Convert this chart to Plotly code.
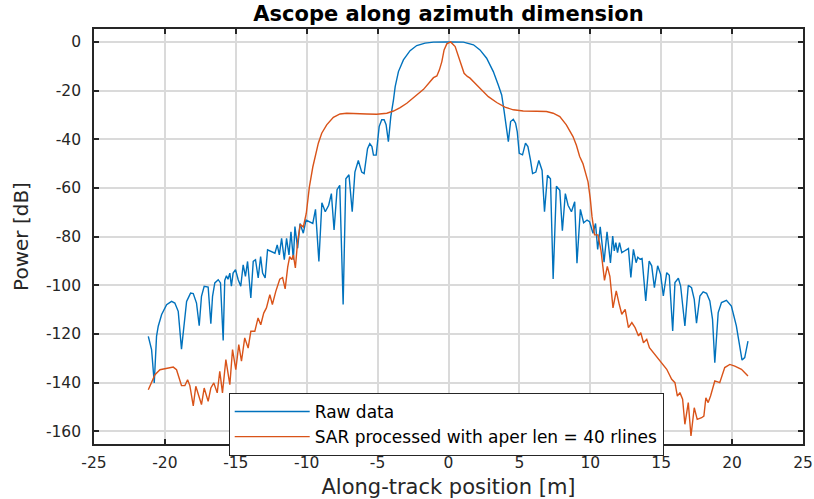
import plotly.graph_objects as go

# Along-track positions [m] and power [dB] of the raw (unfocused) data
raw_x = [
    -21.17, -20.94, -20.75, -20.59, -20.47, -20.23, -19.88, -19.53, -19.30, -19.06,
    -18.83, -18.66, -18.47, -18.19, -18.00, -17.77, -17.58, -17.42, -17.23, -16.95,
    -16.76, -16.64, -16.48, -16.24, -16.08, -15.89, -15.78, -15.66, -15.55, -15.42,
    -15.31, -15.19, -15.02, -14.83, -14.65, -14.48, -14.32, -14.17, -13.94, -13.77,
    -13.61, -13.42, -13.25, -13.11, -12.93, -12.76, -12.48, -12.24, -12.08, -11.93,
    -11.77, -11.58, -11.42, -11.25, -11.11, -10.94, -10.83, -10.64, -10.47, -10.24,
    -10.05, -9.76, -9.57, -9.38, -9.14, -8.93, -8.69, -8.45, -8.26, -8.07,
    -7.86, -7.67, -7.43, -7.24, -7.02, -6.79, -6.60, -6.36, -6.12, -5.95,
    -5.71, -5.55, -5.40, -5.29, -5.10, -4.89, -4.71, -4.54, -4.40, -4.24,
    -4.07, -3.88, -3.76, -3.53, -3.18, -2.71, -2.24, -1.65, -1.06, 0.00,
    1.05, 1.76, 2.22, 2.69, 3.16, 3.51, 3.75, 3.91, 4.05, 4.22,
    4.38, 4.57, 4.73, 4.85, 4.99, 5.22, 5.43, 5.60, 5.78, 5.93,
    6.16, 6.37, 6.60, 6.77, 6.98, 7.19, 7.38, 7.61, 7.85, 8.03,
    8.24, 8.43, 8.67, 8.90, 9.06, 9.30, 9.53, 9.77, 9.95, 10.19,
    10.37, 10.52, 10.70, 10.97, 11.18, 11.42, 11.58, 11.69, 11.80, 11.92,
    12.06, 12.22, 12.41, 12.58, 12.69, 12.86, 13.04, 13.23, 13.35, 13.51,
    13.65, 13.91, 14.15, 14.33, 14.52, 14.75, 14.96, 15.15, 15.39, 15.57,
    15.81, 15.97, 16.21, 16.37, 16.67, 16.91, 17.14, 17.33, 17.49, 17.73,
    17.96, 18.20, 18.43, 18.62, 18.78, 19.02, 19.25, 19.60, 19.95, 20.30,
    20.54, 20.70, 20.89, 21.12,
]
raw_db = [
    -121.0, -126.4, -140.1, -121.0, -116.8, -112.0, -108.0, -106.6, -107.3, -110.7,
    -126.2, -115.5, -106.6, -103.2, -103.4, -107.3, -116.6, -104.5, -100.4, -100.7,
    -115.8, -104.5, -99.0, -97.7, -99.0, -122.7, -98.0, -96.1, -97.5, -95.0,
    -100.4, -95.0, -93.6, -97.7, -100.4, -91.6, -96.3, -90.2, -105.2, -90.2,
    -89.5, -97.0, -88.2, -95.0, -97.0, -85.4, -86.1, -86.8, -83.4, -87.5,
    -80.7, -89.5, -80.7, -87.5, -78.0, -89.5, -75.9, -84.8, -74.6, -78.6,
    -73.2, -73.9, -74.6, -68.8, -90.2, -66.1, -69.8, -67.1, -62.3, -77.3,
    -60.7, -58.9, -107.9, -56.2, -54.6, -69.8, -53.5, -48.7, -53.5, -54.1,
    -43.9, -41.8, -43.0, -46.5, -46.5, -34.8, -32.0, -32.0, -34.0, -41.0,
    -30.7, -23.8, -18.4, -12.2, -7.4, -3.6, -1.5, -0.5, -0.1, 0.0,
    -0.1, -1.2, -3.3, -6.7, -12.2, -17.7, -21.8, -27.9, -34.8, -41.0,
    -32.7, -31.8, -33.4, -37.0, -45.8, -46.4, -41.6, -43.0, -48.5, -54.1,
    -53.5, -48.7, -52.8, -69.8, -54.8, -56.2, -97.4, -59.3, -61.0, -77.6,
    -62.3, -67.1, -69.8, -65.7, -90.9, -68.8, -74.3, -73.2, -73.9, -78.6,
    -74.6, -85.3, -76.0, -90.5, -78.0, -90.8, -79.8, -85.9, -82.5, -86.6,
    -82.5, -86.6, -85.9, -85.2, -84.9, -96.8, -85.2, -90.7, -88.5, -89.3,
    -89.0, -106.4, -90.0, -92.0, -101.0, -92.0, -95.5, -104.4, -94.8, -95.9,
    -118.8, -98.9, -97.1, -100.3, -116.7, -100.0, -101.0, -105.8, -115.6, -104.4,
    -102.7, -103.3, -106.4, -114.0, -131.8, -111.2, -107.1, -106.2, -108.5, -116.7,
    -124.9, -130.7, -129.7, -122.9,
]

# SAR-focused response with a 40-line synthetic aperture
sar_x = [
    -21.17, -20.94, -20.70, -20.35, -19.88, -19.41, -19.18, -18.99, -18.83, -18.59,
    -18.40, -18.24, -18.00, -17.82, -17.58, -17.42, -17.23, -16.95, -16.76, -16.55,
    -16.31, -16.13, -15.94, -15.70, -15.42, -15.23, -15.00, -14.79, -14.60, -14.37,
    -14.13, -13.94, -13.66, -13.43, -13.24, -13.03, -12.84, -12.60, -12.42, -12.18,
    -11.90, -11.70, -11.52, -11.34, -11.20, -11.06, -10.94, -10.80, -10.64, -10.45,
    -10.24, -10.03, -9.90, -9.81, -9.57, -9.41, -9.18, -8.94, -8.59, -8.12,
    -7.65, -7.18, -6.47, -5.76, -5.06, -4.35, -3.88, -3.41, -2.94, -2.35,
    -1.76, -1.29, -1.06, -0.82, -0.64, -0.47, -0.31, -0.12, 0.15, 0.47,
    0.70, 0.94, 1.10, 1.33, 1.52, 1.87, 2.34, 2.81, 3.40, 3.98,
    4.57, 5.27, 6.21, 6.91, 7.38, 7.85, 8.31, 8.78, 9.02, 9.25,
    9.48, 9.84, 10.00, 10.12, 10.30, 10.54, 10.75, 11.00, 11.20, 11.38,
    11.60, 11.83, 12.04, 12.22, 12.46, 12.69, 12.93, 13.16, 13.40, 13.56,
    13.75, 13.98, 14.17, 14.45, 14.92, 15.39, 15.74, 15.97, 16.14, 16.32,
    16.51, 16.67, 16.91, 17.10, 17.33, 17.54, 17.85, 18.01, 18.15, 18.31,
    18.48, 18.78, 19.13, 19.48, 19.84, 20.19, 20.66, 21.12,
]
sar_db = [
    -142.9, -140.1, -136.7, -134.7, -134.0, -133.6, -134.7, -138.1, -141.2, -141.2,
    -138.8, -141.2, -149.5, -141.5, -145.6, -149.0, -142.2, -147.7, -142.2, -140.1,
    -144.2, -135.3, -144.2, -130.5, -140.8, -126.4, -134.7, -124.4, -131.2, -121.6,
    -125.8, -118.9, -118.9, -113.4, -116.2, -111.4, -109.3, -103.8, -107.9, -102.5,
    -97.5, -96.8, -101.5, -92.5, -88.2, -89.5, -87.5, -92.9, -82.0, -75.0,
    -76.0, -70.5, -64.0, -59.6, -51.4, -47.8, -41.6, -37.5, -34.1, -31.0,
    -29.6, -29.3, -29.3, -29.6, -29.7, -29.3, -28.4, -27.0, -25.2, -22.5,
    -19.5, -16.3, -14.7, -14.0, -11.5, -8.1, -3.3, -0.8, 0.0, -1.9,
    -6.0, -10.8, -12.9, -14.2, -14.9, -17.0, -19.7, -22.5, -24.9, -26.8,
    -27.9, -28.4, -28.5, -28.6, -29.3, -30.7, -34.1, -38.9, -42.5, -47.1,
    -50.0, -57.5, -64.5, -71.8, -79.3, -79.3, -85.5, -98.0, -92.2, -96.3,
    -109.3, -102.3, -107.8, -111.9, -109.9, -117.4, -115.3, -117.4, -120.8, -119.5,
    -123.6, -122.2, -125.6, -127.7, -131.1, -134.5, -138.6, -140.0, -145.5, -144.1,
    -146.8, -157.1, -148.2, -161.9, -150.3, -155.1, -154.4, -153.7, -146.2, -148.2,
    -145.5, -139.3, -140.0, -133.8, -132.5, -133.2, -134.5, -137.3,
]

x_ticks = [-25, -20, -15, -10, -5, 0, 5, 10, 15, 20, 25]
y_ticks = [0, -20, -40, -60, -80, -100, -120, -140, -160]

BLUE = "#0072BD"
ORANGE = "#D95319"
AXIS_COLOR = "#262626"
GRID_COLOR = "#DADADA"
FONT = "DejaVu Sans"

fig = go.Figure()
fig.add_trace(go.Scatter(x=raw_x, y=raw_db, mode="lines", name="Raw data",
                         line=dict(color=BLUE, width=1.4)))
fig.add_trace(go.Scatter(x=sar_x, y=sar_db, mode="lines",
                         name="SAR processed with aper len = 40 rlines",
                         line=dict(color=ORANGE, width=1.4)))

axis_common = dict(
    showline=True, linecolor=AXIS_COLOR, linewidth=1.6, mirror="ticks",
    ticks="inside", ticklen=5, tickcolor=AXIS_COLOR, tickwidth=1.6,
    showgrid=True, gridcolor=GRID_COLOR, gridwidth=1.6, zeroline=False,
    tickfont=dict(family=FONT, size=15.5, color=AXIS_COLOR),
)

fig.update_xaxes(
    range=[-25, 25], tickvals=x_ticks, ticktext=[str(v) for v in x_ticks],
    ticklabelstandoff=4,
    title=dict(text="Along-track position [m]",
               font=dict(family=FONT, size=21, color=AXIS_COLOR), standoff=12),
    **axis_common,
)
fig.update_yaxes(
    range=[-165.2, 5.3], tickvals=y_ticks, ticktext=[str(v) for v in y_ticks],
    ticklabelstandoff=8,
    title=dict(text="Power [dB]",
               font=dict(family=FONT, size=20, color=AXIS_COLOR), standoff=12),
    **axis_common,
)

fig.update_layout(
    width=814, height=499,
    margin=dict(l=94, r=11, t=29, b=55, autoexpand=False),
    paper_bgcolor="white", plot_bgcolor="white",
    title=dict(text="<b>Ascope along azimuth dimension</b>",
               font=dict(family=FONT, size=21, color="#000000"),
               x=0.5, xref="paper", xanchor="center",
               y=1 - 14 / 499, yref="container", yanchor="middle"),
    legend=dict(
        x=0.19, y=0.123, xanchor="left", yanchor="top",
        bgcolor="white", bordercolor=AXIS_COLOR, borderwidth=1,
        font=dict(family=FONT, size=17, color="#000000"),
        itemwidth=75, tracegroupgap=0,
    ),
    showlegend=True,
)

fig.write_html("out.html")
